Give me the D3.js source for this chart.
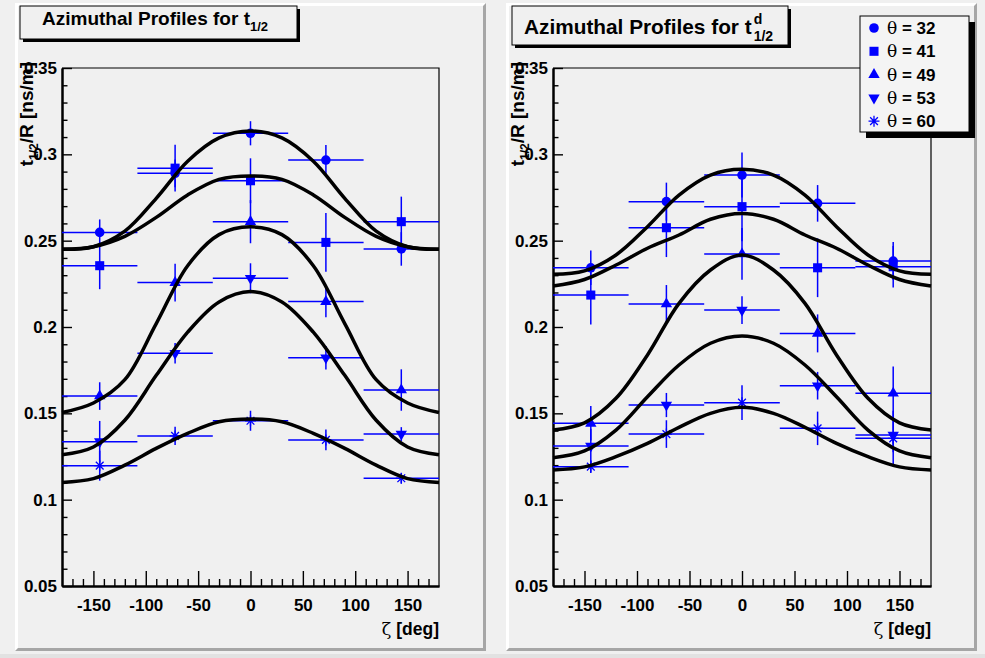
<!DOCTYPE html>
<html>
<head>
<meta charset="utf-8">
<script src="https://cdn.jsdelivr.net/npm/d3@7"></script>
<style>
  html, body { margin: 0; padding: 0; background: #f0f0f0; }
  svg { display: block; }
</style>
</head>
<body>
<svg id="canvas" width="985" height="658"></svg>
<script>
// ---- shared binning ----
const zetaBins = [-144, -72, 0, 72, 144];
const zetaBinHalfWidth = [36, 36, 36, 36, 36];
const curveZeta = [-180, -150, -120, -90, -60, -30, 0, 30, 60, 90, 120, 150, 180];
const thetaLabels = ["32", "41", "49", "53", "60"];
const xTicks = [-150, -100, -50, 0, 50, 100, 150];
const xTickLabels = ["-150", "-100", "-50", "0", "50", "100", "150"];
const yTicks = [0.05, 0.1, 0.15, 0.2, 0.25, 0.3, 0.35];
const yTickLabels = ["0.05", "0.1", "0.15", "0.2", "0.25", "0.3", "0.35"];

// ---- t_{1/2}/R, measured per zeta bin ----
const half32 = [0.2548, 0.2890, 0.3122, 0.2967, 0.2452];
const half32Err = [0.0075, 0.0080, 0.0070, 0.0087, 0.0097];
const half41 = [0.2355, 0.2920, 0.2847, 0.2490, 0.2610];
const half41Err = [0.0136, 0.0135, 0.0130, 0.0170, 0.0145];
const half49 = [0.1600, 0.2257, 0.2610, 0.2147, 0.1635];
const half49Err = [0.0080, 0.0110, 0.0125, 0.0090, 0.0120];
const half53 = [0.1336, 0.1848, 0.2282, 0.1822, 0.1380];
const half53Err = [0.0120, 0.0060, 0.0087, 0.0068, 0.0040];
const half60 = [0.1197, 0.1369, 0.1457, 0.1346, 0.1124];
const half60Err = [0.0087, 0.0053, 0.0058, 0.0060, 0.0030];

// ---- t_{1/2}/R, fitted profiles sampled on curveZeta ----
const halfFit32 = [0.2450, 0.2465, 0.2555, 0.2745, 0.2960, 0.3095, 0.3135, 0.3095, 0.2960, 0.2745, 0.2555, 0.2465, 0.2450];
const halfFit41 = [0.2450, 0.2465, 0.2525, 0.2635, 0.2765, 0.2855, 0.2875, 0.2855, 0.2765, 0.2635, 0.2525, 0.2465, 0.2450];
const halfFit49 = [0.1505, 0.1560, 0.1695, 0.2020, 0.2355, 0.2535, 0.2580, 0.2535, 0.2355, 0.2020, 0.1695, 0.1560, 0.1505];
const halfFit53 = [0.1260, 0.1305, 0.1460, 0.1720, 0.1970, 0.2145, 0.2205, 0.2145, 0.1970, 0.1720, 0.1460, 0.1305, 0.1260];
const halfFit60 = [0.1100, 0.1122, 0.1200, 0.1297, 0.1384, 0.1451, 0.1467, 0.1451, 0.1384, 0.1297, 0.1200, 0.1122, 0.1100];

// ---- t^d_{1/2}/R, measured per zeta bin ----
const delay32 = [0.2343, 0.2726, 0.2880, 0.2716, 0.2382];
const delay32Err = [0.0100, 0.0110, 0.0130, 0.0106, 0.0110];
const delay41 = [0.2185, 0.2575, 0.2697, 0.2343, 0.2349];
const delay41Err = [0.0170, 0.0170, 0.0200, 0.0170, 0.0120];
const delay49 = [0.1442, 0.2133, 0.2423, 0.1963, 0.1616];
const delay49Err = [0.0100, 0.0110, 0.0150, 0.0110, 0.0155];
const delay53 = [0.1311, 0.1548, 0.2098, 0.1660, 0.1374];
const delay53Err = [0.0100, 0.0070, 0.0080, 0.0080, 0.0100];
const delay60 = [0.1191, 0.1380, 0.1562, 0.1413, 0.1355];
const delay60Err = [0.0037, 0.0080, 0.0100, 0.0097, 0.0160];

// ---- t^d_{1/2}/R, fitted profiles sampled on curveZeta ----
const delayFit32 = [0.2305, 0.2325, 0.2417, 0.2581, 0.2764, 0.2880, 0.2913, 0.2880, 0.2764, 0.2581, 0.2417, 0.2325, 0.2305];
const delayFit41 = [0.2237, 0.2275, 0.2359, 0.2456, 0.2533, 0.2624, 0.2658, 0.2624, 0.2533, 0.2456, 0.2359, 0.2275, 0.2237];
const delayFit49 = [0.1403, 0.1445, 0.1587, 0.1838, 0.2137, 0.2330, 0.2417, 0.2330, 0.2137, 0.1838, 0.1587, 0.1445, 0.1403];
const delayFit53 = [0.1243, 0.1282, 0.1403, 0.1596, 0.1780, 0.1906, 0.1948, 0.1906, 0.1780, 0.1596, 0.1403, 0.1282, 0.1243];
const delayFit60 = [0.1172, 0.1190, 0.1249, 0.1326, 0.1419, 0.1500, 0.1535, 0.1500, 0.1419, 0.1326, 0.1249, 0.1190, 0.1172];

// ---- styling ----
const BLUE = "#0000ff";
const PAD_FILL = "#f0f0f0";
const SANS = "'Liberation Sans', Arial, Helvetica, sans-serif";
const SERIF = "'DejaVu Serif', 'Liberation Serif', serif";

// ROOT-style asterisk marker (+ and x overlaid)
const symbolAsterisk = {
  draw(context, size) {
    const r = Math.sqrt(size) / 2;
    const d = r * Math.SQRT1_2;
    context.moveTo(-r, 0); context.lineTo(r, 0);
    context.moveTo(0, -r); context.lineTo(0, r);
    context.moveTo(-d, -d); context.lineTo(d, d);
    context.moveTo(-d, d); context.lineTo(d, -d);
  }
};
const markers = [
  { type: d3.symbolCircle, size: 72, rotate: 0, stroke: false },
  { type: d3.symbolSquare, size: 82, rotate: 0, stroke: false },
  { type: d3.symbolTriangle, size: 56, rotate: 0, stroke: false },
  { type: d3.symbolTriangle, size: 56, rotate: 180, stroke: false },
  { type: symbolAsterisk, size: 120, rotate: 0, stroke: true }
];

const svg = d3.select("#canvas");

// canvas background + bottom edge
svg.append("rect").attr("x", 0).attr("y", 0).attr("width", 985).attr("height", 658).attr("fill", "#f0f0f0");
svg.append("rect").attr("x", 0).attr("y", 654).attr("width", 985).attr("height", 4).attr("fill", "#e2e2e2");

function drawPad(x0, y0, x1, y1) {
  const bw = 3;
  svg.append("rect").attr("x", x0).attr("y", y0).attr("width", x1 - x0).attr("height", y1 - y0).attr("fill", PAD_FILL);
  // light top/left bevel
  svg.append("polygon")
    .attr("points", [[x0, y1], [x0, y0], [x1, y0], [x1 - bw, y0 + bw], [x0 + bw, y0 + bw], [x0 + bw, y1 - bw]].map(p => p.join(",")).join(" "))
    .attr("fill", "#ffffff");
  // dark bottom/right bevel
  svg.append("polygon")
    .attr("points", [[x1, y0], [x1, y1], [x0, y1], [x0 + bw, y1 - bw], [x1 - bw, y1 - bw], [x1 - bw, y0 + bw]].map(p => p.join(",")).join(" "))
    .attr("fill", "#a6a6a6");
}

function drawPanel(cfg) {
  drawPad(cfg.pad[0], cfg.pad[1], cfg.pad[2], cfg.pad[3]);

  const x = d3.scaleLinear().domain([-180, 180]).range([cfg.frame[0], cfg.frame[1]]);
  const y = d3.scaleLinear().domain([0.05, 0.35]).range([586, 68]);
  const g = svg.append("g");

  // frame (top and right sides)
  g.append("path")
    .attr("d", `M${x(-180)},${y(0.35)}H${x(180)}V${y(0.05)}`)
    .attr("fill", "none").attr("stroke", "#000").attr("stroke-width", 1.2);

  // x axis: major and minor ticks pointing into the frame
  const minorX = d3.range(-170, 180, 10).filter(v => v % 50 !== 0);
  const gxMinor = g.append("g").attr("transform", `translate(0,${y(0.05)})`)
    .call(d3.axisBottom(x).tickValues(minorX).tickSize(-7).tickSizeOuter(0).tickFormat(""));
  const gx = g.append("g").attr("transform", `translate(0,${y(0.05)})`)
    .call(d3.axisBottom(x).tickValues(xTicks).tickSize(-15).tickSizeOuter(0).tickPadding(12.5)
      .tickFormat((d, i) => xTickLabels[i]));
  // y axis
  const minorY = d3.range(6, 35, 1).map(v => v / 100).filter(v => Math.round(v * 100) % 5 !== 0);
  const gyMinor = g.append("g").attr("transform", `translate(${x(-180)},0)`)
    .call(d3.axisLeft(y).tickValues(minorY).tickSize(-5.5).tickSizeOuter(0).tickFormat(""));
  const gy = g.append("g").attr("transform", `translate(${x(-180)},0)`)
    .call(d3.axisLeft(y).tickValues(yTicks).tickSize(-10).tickSizeOuter(0).tickPadding(5)
      .tickFormat((d, i) => yTickLabels[i]));
  [gxMinor, gx, gyMinor, gy].forEach(a => {
    a.selectAll("path.domain").attr("stroke", "#000").attr("stroke-width", 2);
    a.selectAll(".tick line").attr("stroke", "#000").attr("stroke-width", 1.4);
    a.selectAll("text").attr("fill", "#000").attr("font-family", SANS)
      .attr("font-weight", "bold").attr("font-size", 17);
  });

  // x axis title
  const xt = g.append("text").attr("x", x(180)).attr("y", 635).attr("text-anchor", "end")
    .attr("font-family", SANS).attr("font-weight", "bold").attr("font-size", 17.5);
  xt.append("tspan").attr("font-family", SERIF).attr("font-weight", "normal").text("ζ");
  xt.append("tspan").text(" [deg]");

  // y axis title (rotated, right-aligned at top of axis)
  const yt = g.append("text")
    .attr("transform", `translate(${cfg.frame[0] - 29},62) rotate(-90)`)
    .attr("text-anchor", "end").attr("font-family", SANS).attr("font-weight", "bold").attr("font-size", 19);
  yt.append("tspan").text("t");
  yt.append("tspan").attr("font-size", 12).attr("dy", 5).text("1/2");
  yt.append("tspan").attr("dy", -5).text("/R [ns/m]");

  // data: error bars + markers
  cfg.series.forEach((s, k) => {
    const sg = g.append("g");
    zetaBins.forEach((z, i) => {
      const cx = x(z), cy = y(s.values[i]);
      sg.append("line").attr("x1", x(z - zetaBinHalfWidth[i])).attr("x2", x(z + zetaBinHalfWidth[i]))
        .attr("y1", cy).attr("y2", cy).attr("stroke", BLUE).attr("stroke-width", 1.5);
      sg.append("line").attr("x1", cx).attr("x2", cx)
        .attr("y1", y(s.values[i] - s.errors[i])).attr("y2", y(s.values[i] + s.errors[i]))
        .attr("stroke", BLUE).attr("stroke-width", 1.5);
      const m = markers[k];
      sg.append("path")
        .attr("d", d3.symbol(m.type, m.size)())
        .attr("transform", `translate(${cx},${cy}) rotate(${m.rotate})`)
        .attr("fill", m.stroke ? "none" : BLUE)
        .attr("stroke", m.stroke ? BLUE : "none").attr("stroke-width", 1.3);
    });
  });

  // fitted profiles
  const line = d3.line().x((d, i) => x(curveZeta[i])).y(d => y(d)).curve(d3.curveCatmullRom.alpha(0.5));
  cfg.fits.forEach(f => {
    g.append("path").attr("d", line(f)).attr("fill", "none")
      .attr("stroke", "#000").attr("stroke-width", 3.5).attr("stroke-linejoin", "round");
  });

  // title box with shadow
  const tb = cfg.titleBox;
  g.append("rect").attr("x", tb[0] + 3).attr("y", tb[1] + 3).attr("width", tb[2] - tb[0]).attr("height", tb[3] - tb[1]).attr("fill", "#000");
  g.append("rect").attr("x", tb[0]).attr("y", tb[1]).attr("width", tb[2] - tb[0]).attr("height", tb[3] - tb[1])
    .attr("fill", PAD_FILL).attr("stroke", "#000").attr("stroke-width", 1);
  cfg.drawTitle(g, tb);
  return { x, y, g };
}

// left: t_{1/2}
drawPanel({
  pad: [15, 3, 486, 651],
  frame: [62, 439],
  titleBox: [20, 6, 297, 39],
  series: [
    { values: half32, errors: half32Err },
    { values: half41, errors: half41Err },
    { values: half49, errors: half49Err },
    { values: half53, errors: half53Err },
    { values: half60, errors: half60Err }
  ],
  fits: [halfFit32, halfFit41, halfFit49, halfFit53, halfFit60],
  drawTitle(g, tb) {
    const t = g.append("text").attr("x", 42).attr("y", 25)
      .attr("font-family", SANS).attr("font-weight", "bold").attr("font-size", 19);
    t.append("tspan").text("Azimuthal Profiles for t");
    t.append("tspan").attr("font-size", 13).attr("dy", 6).text("1/2");
  }
});

// right: t^d_{1/2}
drawPanel({
  pad: [506, 3, 977, 651],
  frame: [553, 931],
  titleBox: [512, 6, 788, 45],
  series: [
    { values: delay32, errors: delay32Err },
    { values: delay41, errors: delay41Err },
    { values: delay49, errors: delay49Err },
    { values: delay53, errors: delay53Err },
    { values: delay60, errors: delay60Err }
  ],
  fits: [delayFit32, delayFit41, delayFit49, delayFit53, delayFit60],
  drawTitle(g, tb) {
    const t = g.append("text").attr("x", 524).attr("y", 34)
      .attr("font-family", SANS).attr("font-weight", "bold").attr("font-size", 20.8)
      .text("Azimuthal Profiles for t");
    const end = 524 + t.node().getComputedTextLength();
    g.append("text").attr("x", end + 2).attr("y", 24).attr("font-family", SANS)
      .attr("font-weight", "bold").attr("font-size", 14).text("d");
    g.append("text").attr("x", end + 2).attr("y", 41).attr("font-family", SANS)
      .attr("font-weight", "bold").attr("font-size", 14).text("1/2");
  }
});

// legend (drawn over the right frame corner)
const lg = svg.append("g");
lg.append("rect").attr("x", 866).attr("y", 22).attr("width", 109).attr("height", 116).attr("fill", "#000");
lg.append("rect").attr("x", 860).attr("y", 16).attr("width", 109).attr("height", 116)
  .attr("fill", "#f4f4f4").attr("stroke", "#000").attr("stroke-width", 1);
thetaLabels.forEach((lab, k) => {
  const cy = 28 + k * 23.3;
  const m = markers[k];
  lg.append("path").attr("d", d3.symbol(m.type, m.size)())
    .attr("transform", `translate(874,${cy}) rotate(${m.rotate})`)
    .attr("fill", m.stroke ? "none" : BLUE)
    .attr("stroke", m.stroke ? BLUE : "none").attr("stroke-width", 1.3);
  const t = lg.append("text").attr("x", 887).attr("y", cy + 6)
    .attr("font-family", SANS).attr("font-weight", "bold").attr("font-size", 17);
  t.append("tspan").attr("font-family", SERIF).attr("font-weight", "normal").text("θ");
  t.append("tspan").text(" = " + lab);
});
</script>
</body>
</html>
